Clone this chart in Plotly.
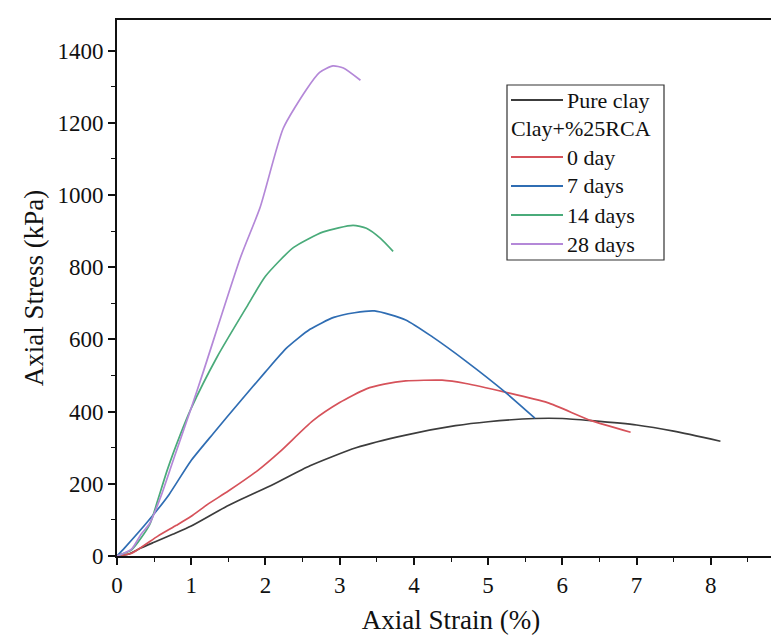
import plotly.graph_objects as go

# ---------------- data ----------------
pure_x = [0, 0.15, 0.32, 0.5, 0.75, 1.0, 1.5, 2.11, 2.6, 3.22, 3.89, 4.56, 5.0, 5.63, 6.0, 6.39, 7.0, 7.5, 8.13]
pure_y = [0, 5, 22, 38, 60, 83, 140, 199, 250, 300, 335, 361, 372, 381, 381, 375, 363, 346, 318]

day0_x = [0, 0.2, 0.55, 0.8, 1.0, 1.22, 1.5, 1.89, 2.2, 2.64, 3.0, 3.36, 3.6, 3.89, 4.38, 4.7, 5.23, 5.8, 6.39, 6.92]
day0_y = [0, 8, 55, 85, 110, 143, 180, 236, 290, 375, 425, 463, 476, 485, 487, 478, 454, 425, 375, 343]

day7_x = [0, 0.1, 0.42, 0.7, 0.99, 1.3, 1.67, 2.0, 2.29, 2.6, 2.92, 3.2, 3.47, 3.89, 4.25, 4.7, 5.23, 5.63]
day7_y = [0, 22, 97, 170, 262, 340, 431, 510, 577, 628, 661, 674, 679, 654, 607, 540, 454, 382]

day14_x = [0, 0.2, 0.44, 0.55, 0.68, 0.85, 0.99, 1.35, 1.75, 2.0, 2.38, 2.78, 3.18, 3.36, 3.55, 3.72]
day14_y = [0, 18, 87, 155, 240, 335, 405, 552, 691, 775, 855, 898, 916, 908, 880, 844]

day28_x = [0, 0.2, 0.32, 0.44, 0.6, 0.77, 1.0, 1.17, 1.66, 1.93, 2.24, 2.55, 2.73, 2.91, 3.05, 3.28]
day28_y = [0, 20, 59, 90, 170, 273, 410, 515, 825, 967, 1185, 1292, 1340, 1358, 1352, 1318]

series_names = ["Pure clay", "0 day", "7 days", "14 days", "28 days"]
group_label = "Clay+%25RCA"

x_ticks = [0, 1, 2, 3, 4, 5, 6, 7, 8, 9]
y_ticks = [0, 200, 400, 600, 800, 1000, 1200, 1400]

# ---------------- style ----------------
colors = ["#3c3c3c", "#d6525a", "#2f6db3", "#4aab7a", "#b488d8"]
FONT = "Liberation Serif"
W, H = 779, 635
L, R, T, B = 109, 2, 12, 87

def px(xp):
    return (xp - L) / (W - L - R)

def py(yp):
    return (H - B - yp) / (H - B - T)

fig = go.Figure()
data = [(pure_x, pure_y), (day0_x, day0_y), (day7_x, day7_y), (day14_x, day14_y), (day28_x, day28_y)]
for (xs, ys), name, c in zip(data, series_names, colors):
    fig.add_trace(go.Scatter(x=xs, y=ys, mode="lines", name=name,
                             line=dict(color=c, width=1.7, shape="spline", smoothing=0.6),
                             showlegend=False))

# manual legend (box, header row, line samples, labels)
shapes = [dict(type="rect", xref="paper", yref="paper",
               x0=px(499), x1=px(656), y0=py(252), y1=py(77),
               line=dict(color="#333333", width=1.2), fillcolor="rgba(255,255,255,0)")]
annotations = []
rows_y = [92, 120, 149, 178, 207, 236]
legend_items = [(series_names[0], colors[0])] + [(group_label, None)] + list(zip(series_names[1:], colors[1:]))
for ry, (label, c) in zip(rows_y, legend_items):
    if c is None:
        annotations.append(dict(xref="paper", yref="paper", x=px(501), y=py(ry), text=label,
                                showarrow=False, xanchor="left", yanchor="middle",
                                font=dict(family=FONT, size=22, color="#111111")))
    else:
        shapes.append(dict(type="line", xref="paper", yref="paper",
                           x0=px(503), x1=px(555), y0=py(ry), y1=py(ry),
                           line=dict(color=c, width=1.8)))
        annotations.append(dict(xref="paper", yref="paper", x=px(557), y=py(ry), text=label,
                                showarrow=False, xanchor="left", yanchor="middle",
                                font=dict(family=FONT, size=22, color="#111111")))

fig.update_layout(
    width=W, height=H,
    margin=dict(l=L, r=R, t=T, b=B, autoexpand=False),
    paper_bgcolor="white", plot_bgcolor="white",
    font=dict(family=FONT, size=23, color="#111111"),
    shapes=shapes, annotations=annotations,
    showlegend=False,
)
fig.update_xaxes(
    range=[0, 9], tickvals=x_ticks, ticktext=[str(v) for v in x_ticks],
    ticks="outside", ticklen=7, tickwidth=1.6, tickcolor="#111111",
    minor=dict(ticks="outside", ticklen=4, tickwidth=1.4, dtick=0.5, tick0=0, tickcolor="#111111"),
    showline=True, linecolor="#111111", linewidth=1.8, mirror=True,
    showgrid=False, zeroline=False, ticklabeloverflow="allow",
    tickfont=dict(family=FONT, size=23),
    title=dict(text="Axial Strain (%)", font=dict(family=FONT, size=27), standoff=14),
)
fig.update_yaxes(
    range=[0, 1485], tickvals=y_ticks, ticktext=[str(v) for v in y_ticks],
    ticks="outside", ticklen=7, tickwidth=1.6, tickcolor="#111111",
    minor=dict(ticks="outside", ticklen=4, tickwidth=1.4, dtick=100, tick0=0, tickcolor="#111111"),
    showline=True, linecolor="#111111", linewidth=1.8, mirror=True,
    showgrid=False, zeroline=False,
    tickfont=dict(family=FONT, size=23),
    title=dict(text="Axial Stress (kPa)", font=dict(family=FONT, size=27), standoff=6),
)

fig.write_html("out.html")
